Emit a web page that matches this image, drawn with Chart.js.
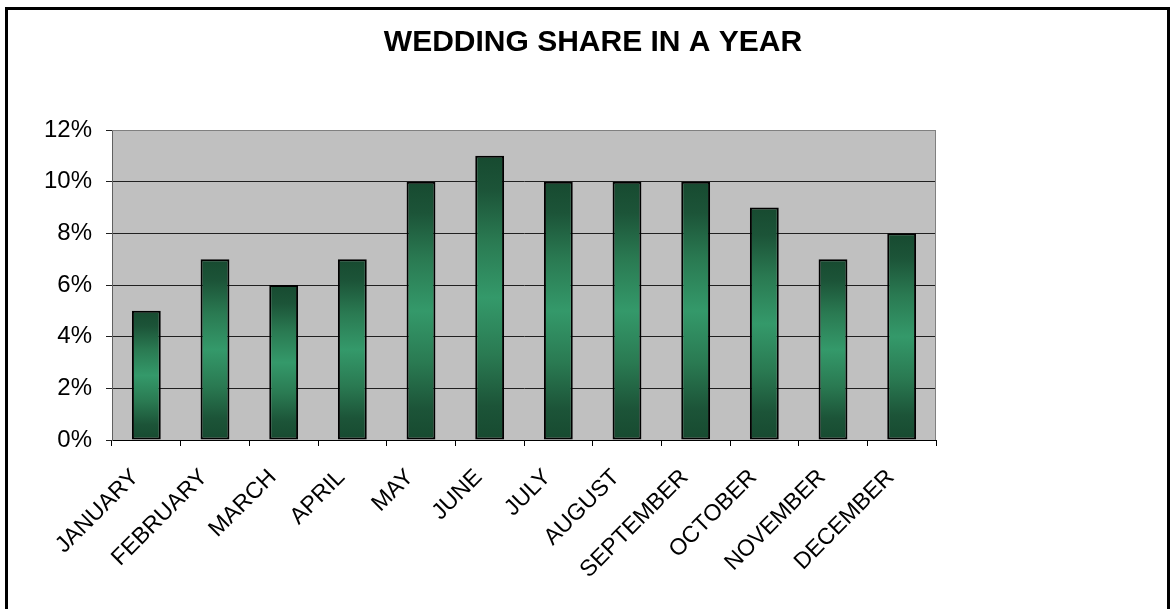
<!DOCTYPE html>
<html>
<head>
<meta charset="utf-8">
<script src="https://cdn.jsdelivr.net/npm/chart.js@4/dist/chart.umd.min.js"></script>
<style>
  body { margin: 0; background: #fff; }
  canvas { display: block; }
</style>
</head>
<body>
<canvas id="weddingChart" width="1171" height="609"></canvas>
<script>
// Chart data
const months = ["JANUARY", "FEBRUARY", "MARCH", "APRIL", "MAY", "JUNE", "JULY", "AUGUST", "SEPTEMBER", "OCTOBER", "NOVEMBER", "DECEMBER"];
const shares = [5, 7, 6, 7, 10, 11, 10, 10, 10, 9, 7, 8];
const yTicks = [0, 2, 4, 6, 8, 10, 12];

const fontFamily = "'Liberation Sans', Arial, sans-serif";

// vertical gradient for each bar: dark at ends, light green in the middle
function barGradient(context) {
  const chart = context.chart;
  if (!chart.chartArea || context.raw === undefined) return "#2e8a5e";
  const yScale = chart.scales.y;
  const top = yScale.getPixelForValue(context.raw);
  const bottom = yScale.getPixelForValue(0);
  const g = chart.ctx.createLinearGradient(0, top, 0, bottom);
  g.addColorStop(0, "#174a30");
  g.addColorStop(0.12, "#1c5438");
  g.addColorStop(0.3, "#2a7a52");
  g.addColorStop(0.5, "#34996a");
  g.addColorStop(0.7, "#2a7a52");
  g.addColorStop(0.88, "#1c5438");
  g.addColorStop(1, "#174a30");
  return g;
}

// grey plot area + outer frame, title centred on the whole page
const backdrop = {
  id: "backdrop",
  afterLayout(chart) {
    const t = chart.titleBlock;
    if (t) {
      t.left = 0;
      t.right = 1186;
      t.width = 1186;
    }
  },
  beforeDraw(chart) {
    const { ctx, chartArea } = chart;
    ctx.save();
    ctx.fillStyle = "#c0c0c0";
    ctx.fillRect(chartArea.left, chartArea.top, chartArea.right - chartArea.left, chartArea.bottom - chartArea.top);
    ctx.strokeStyle = "#000";
    ctx.lineWidth = 3;
    ctx.strokeRect(6.5, 8.5, chart.width - 9, chart.height + 20);
    ctx.restore();
  },
  afterDatasetsDraw(chart) {
    const { ctx, chartArea } = chart;
    ctx.save();
    ctx.strokeStyle = "#808080";
    ctx.lineWidth = 1;
    ctx.beginPath();
    ctx.moveTo(chartArea.left, chartArea.top + 0.5);
    ctx.lineTo(chartArea.right - 0.5, chartArea.top + 0.5);
    ctx.lineTo(chartArea.right - 0.5, chartArea.bottom);
    ctx.stroke();
    ctx.restore();
  }
};

const ctx = document.getElementById("weddingChart").getContext("2d");

new Chart(ctx, {
  type: "bar",
  data: {
    labels: months,
    datasets: [
      {
        label: "Share",
        data: shares,
        backgroundColor: barGradient,
        borderColor: "#000",
        borderWidth: 2,
        borderSkipped: false,
        categoryPercentage: 1,
        barPercentage: 0.42,
      },
    ],
  },
  options: {
    responsive: false,
    animation: false,
    layout: { padding: { left: 0, right: 235, top: 0, bottom: 0 } },
    plugins: {
      legend: { display: false },
      tooltip: { enabled: false },
      title: {
        display: true,
        text: "WEDDING SHARE IN A YEAR",
        color: "#000",
        font: { family: fontFamily, size: 30, weight: "bold" },
        padding: { top: 25, bottom: 69 },
      },
    },
    scales: {
      x: {
        offset: true,
        grid: {
          offset: true,
          drawOnChartArea: false,
          drawTicks: true,
          tickLength: 6,
          color: "#000",
        },
        border: { color: "#000", width: 1 },
        ticks: {
          color: "#000",
          font: { family: fontFamily, size: 23 },
          minRotation: 45,
          maxRotation: 45,
          padding: 18,
          labelOffset: -11,
        },
        afterFit: (scale) => { scale.height = 169; },
      },
      y: {
        min: 0,
        max: 12,
        afterBuildTicks: (scale) => { scale.ticks = yTicks.map((v) => ({ value: v })); },
        grid: {
          color: (c) => (c.tick && c.tick.value === 12 ? "#808080" : "#202020"),
          tickColor: "#202020",
          tickLength: 6,
          lineWidth: 1,
        },
        border: { color: "#606060", width: 1 },
        ticks: {
          color: "#000",
          font: { family: fontFamily, size: 24 },
          padding: 14,
          callback: (v) => v + "%",
        },
        afterFit: (scale) => { scale.width = 112; },
      },
    },
  },
  plugins: [backdrop],
});
</script>
</body>
</html>
